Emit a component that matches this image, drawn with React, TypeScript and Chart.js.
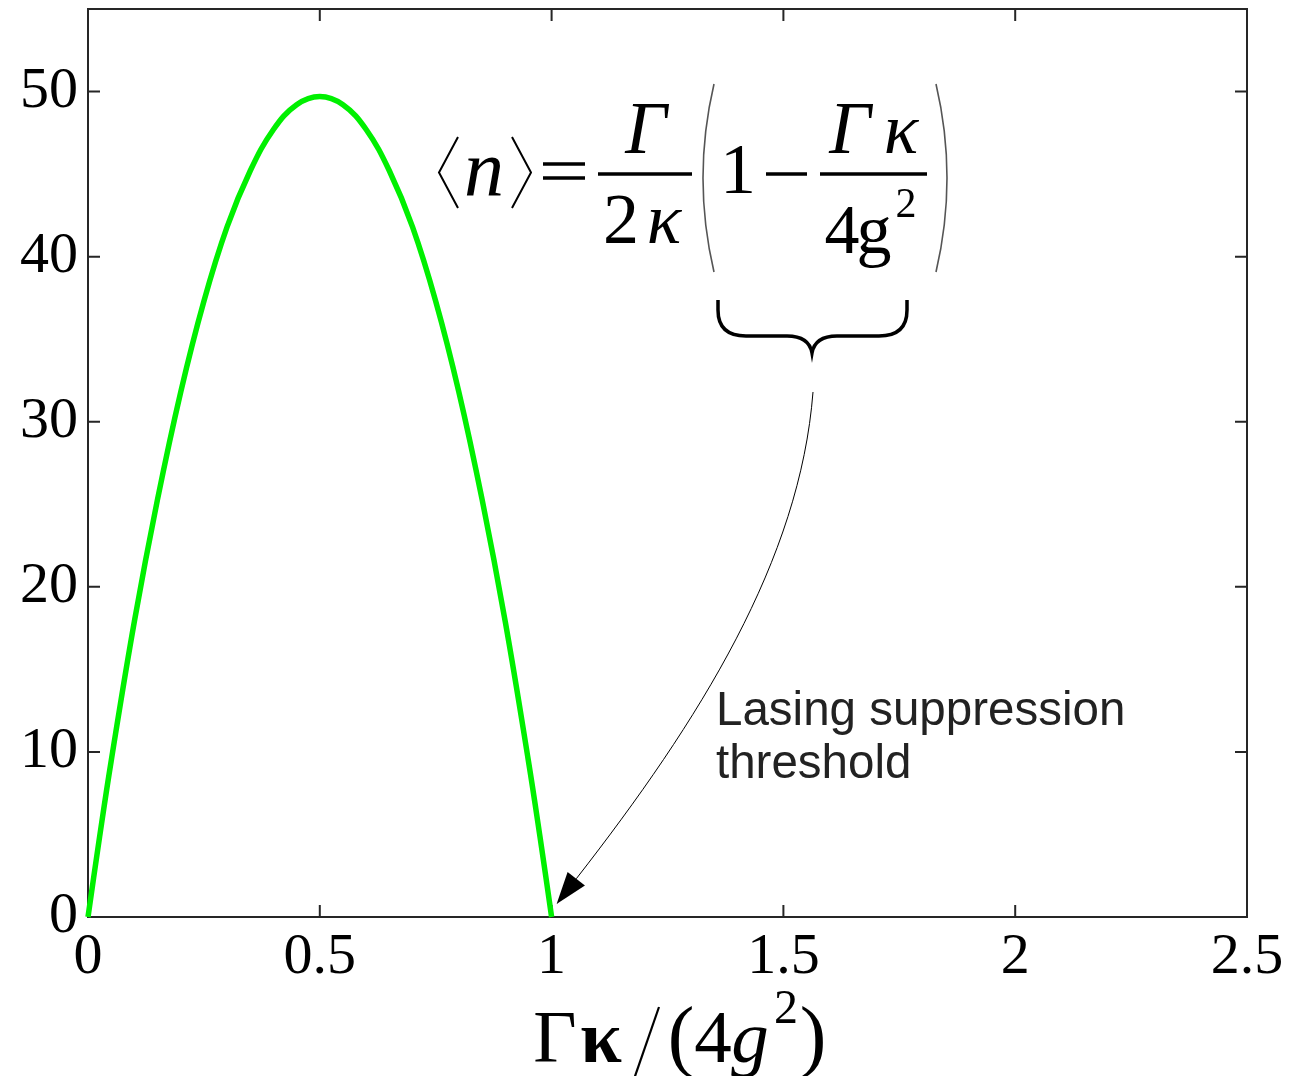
import React, { useEffect, useRef } from "react";
import { Chart, registerables } from "chart.js";

Chart.register(...registerables);

// Normalised pump rate Γκ/(4g²)
const pumpRatio = [
  0, 0.025, 0.05, 0.1, 0.15, 0.2, 0.25, 0.3, 0.35, 0.4, 0.45, 0.5,
  0.55, 0.6, 0.65, 0.7, 0.75, 0.8, 0.85, 0.9, 0.95, 0.975, 1.0,
];
// Mean photon number ⟨n⟩
const meanPhotons = [
  0, 4.85, 9.45, 17.9, 25.3, 31.8, 37.3, 41.8, 45.2, 47.7, 49.2, 49.7,
  49.2, 47.7, 45.2, 41.8, 37.3, 31.8, 25.3, 17.9, 9.45, 4.85, 0,
];

const xTickValues = [0, 0.5, 1, 1.5, 2, 2.5];
const yTickValues = [0, 10, 20, 30, 40, 50];

const SERIF = "'Liberation Serif', 'Times New Roman', serif";
const SANS = "'Liberation Sans', Arial, sans-serif";
const AXIS_COLOR = "#262626";
const TICK_LEN = 12;

// Box around the plot area with inward tick marks on all four sides
const framePlugin = {
  id: "frame",
  beforeDatasetsDraw(chart: any) {
    const { ctx, chartArea: a, scales } = chart;
    ctx.save();
    ctx.strokeStyle = AXIS_COLOR;
    ctx.lineWidth = 2;
    ctx.strokeRect(a.left, a.top, a.right - a.left, a.bottom - a.top);
    ctx.beginPath();
    for (const t of scales.x.ticks) {
      const px = scales.x.getPixelForValue(t.value);
      ctx.moveTo(px, a.bottom);
      ctx.lineTo(px, a.bottom - TICK_LEN);
      ctx.moveTo(px, a.top);
      ctx.lineTo(px, a.top + TICK_LEN);
    }
    for (const t of scales.y.ticks) {
      const py = scales.y.getPixelForValue(t.value);
      ctx.moveTo(a.left, py);
      ctx.lineTo(a.left + TICK_LEN, py);
      ctx.moveTo(a.right, py);
      ctx.lineTo(a.right - TICK_LEN, py);
    }
    ctx.stroke();
    ctx.restore();
  },
};

function glyph(ctx: CanvasRenderingContext2D, text: string, cx: number, base: number, font: string) {
  ctx.font = font;
  ctx.textAlign = "center";
  ctx.textBaseline = "alphabetic";
  ctx.fillText(text, cx, base);
}

function hLine(ctx: CanvasRenderingContext2D, x0: number, x1: number, y: number, w: number) {
  ctx.lineWidth = w;
  ctx.beginPath();
  ctx.moveTo(x0, y);
  ctx.lineTo(x1, y);
  ctx.stroke();
}

// Formula, brace, arrow, threshold note and the x-axis title
const notesPlugin = {
  id: "notes",
  afterDraw(chart: any) {
    const { ctx, scales } = chart;
    ctx.save();
    ctx.fillStyle = "#000";
    ctx.strokeStyle = "#000";
    ctx.lineCap = "butt";

    // ⟨n⟩
    ctx.lineWidth = 2;
    ctx.beginPath();
    ctx.moveTo(458, 137);
    ctx.lineTo(439, 172.5);
    ctx.lineTo(458, 208);
    ctx.moveTo(512, 137);
    ctx.lineTo(531, 172.5);
    ctx.lineTo(512, 208);
    ctx.stroke();
    glyph(ctx, "n", 484, 195, `italic 80px ${SERIF}`);

    // =
    hLine(ctx, 543, 585, 164, 3.5);
    hLine(ctx, 543, 585, 178, 3.5);

    // Γ / 2κ
    hLine(ctx, 598, 692, 174, 3.5);
    glyph(ctx, "Γ", 646, 153, `italic 73px ${SERIF}`);
    glyph(ctx, "2", 621, 243, `72px ${SERIF}`);
    glyph(ctx, "κ", 664, 243, `italic 72px ${SERIF}`);

    // big parentheses
    ctx.strokeStyle = "#555";
    ctx.lineWidth = 1.6;
    ctx.beginPath();
    ctx.moveTo(714, 84);
    ctx.quadraticCurveTo(692, 178, 714, 272);
    ctx.moveTo(936, 84);
    ctx.quadraticCurveTo(958, 178, 936, 272);
    ctx.stroke();
    ctx.strokeStyle = "#000";

    // 1 − Γκ / 4g²
    glyph(ctx, "1", 738, 193, `72px ${SERIF}`);
    hLine(ctx, 766, 807, 174, 3.5);
    hLine(ctx, 820, 927, 174, 3.5);
    glyph(ctx, "Γ", 850, 153, `italic 73px ${SERIF}`);
    glyph(ctx, "κ", 901, 153, `italic 72px ${SERIF}`);
    glyph(ctx, "4", 842, 253, `70px ${SERIF}`);
    glyph(ctx, "g", 874, 253, `70px ${SERIF}`);
    glyph(ctx, "2", 906, 217, `42px ${SERIF}`);

    // under-brace
    ctx.lineWidth = 3.5;
    ctx.beginPath();
    ctx.moveTo(718, 300);
    ctx.lineTo(718, 310);
    ctx.quadraticCurveTo(718, 336, 746, 336);
    ctx.lineTo(787, 336);
    ctx.quadraticCurveTo(809, 336, 812, 353);
    ctx.quadraticCurveTo(815, 336, 837, 336);
    ctx.lineTo(879, 336);
    ctx.quadraticCurveTo(907, 336, 907, 310);
    ctx.lineTo(907, 300);
    ctx.stroke();

    // arrow to the threshold point on the x axis
    const tipX = scales.x.getPixelForValue(1) + 5;
    const tipY = scales.y.getPixelForValue(0) - 13;
    const c2x = 700, c2y = 720;
    let dx = tipX - c2x, dy = tipY - c2y;
    const len = Math.hypot(dx, dy);
    dx /= len; dy /= len;
    const headLen = 32, headHalf = 11;
    const bx = tipX - dx * headLen, by = tipY - dy * headLen;
    ctx.lineWidth = 1;
    ctx.beginPath();
    ctx.moveTo(813, 392);
    ctx.bezierCurveTo(800, 560, c2x, c2y, bx, by);
    ctx.stroke();
    ctx.beginPath();
    ctx.moveTo(tipX, tipY);
    ctx.lineTo(bx - dy * headHalf, by + dx * headHalf);
    ctx.lineTo(bx + dy * headHalf, by - dx * headHalf);
    ctx.closePath();
    ctx.fill();

    // threshold note
    ctx.fillStyle = "#222";
    ctx.font = `47.5px ${SANS}`;
    ctx.textAlign = "left";
    ctx.textBaseline = "alphabetic";
    ctx.fillText("Lasing suppression", 716, 725);
    ctx.fillText("threshold", 716, 778);

    // x-axis title Γκ/(4g²)
    ctx.fillStyle = "#000";
    glyph(ctx, "Γ", 555, 1062, `75px ${SERIF}`);
    glyph(ctx, "κ", 601, 1062, `bold 75px ${SERIF}`);
    ctx.lineWidth = 2.2;
    ctx.beginPath();
    ctx.moveTo(659, 1007);
    ctx.lineTo(633, 1082);
    ctx.stroke();
    glyph(ctx, "(", 681, 1062, `80px ${SERIF}`);
    glyph(ctx, "4", 713, 1062, `75px ${SERIF}`);
    glyph(ctx, "g", 750, 1062, `italic 75px ${SERIF}`);
    glyph(ctx, "2", 786, 1023, `48px ${SERIF}`);
    glyph(ctx, ")", 813, 1062, `80px ${SERIF}`);

    ctx.restore();
  },
};

export default function App() {
  const canvasRef = useRef<HTMLCanvasElement | null>(null);

  useEffect(() => {
    const canvas = canvasRef.current;
    if (!canvas) return;
    const tickFont = { family: SERIF, size: 58 };
    const chart = new Chart(canvas, {
      type: "line",
      data: {
        datasets: [
          {
            data: pumpRatio.map((x, i) => ({ x, y: meanPhotons[i] })),
            borderColor: "rgb(0, 240, 0)",
            borderWidth: 5.5,
            pointRadius: 0,
            tension: 0.4,
            clip: false,
          } as any,
        ],
      },
      options: {
        responsive: false,
        animation: false,
        layout: { padding: { top: 9, right: 42, left: 0, bottom: 0 } },
        plugins: { legend: { display: false }, tooltip: { enabled: false } },
        scales: {
          x: {
            type: "linear",
            min: 0,
            max: 2.5,
            afterBuildTicks: (s: any) => {
              s.ticks = xTickValues.map((v) => ({ value: v }));
            },
            afterFit: (s: any) => {
              s.height = 159;
              s.paddingLeft = 0;
              s.paddingRight = 0;
            },
            grid: { display: false, drawTicks: false },
            border: { display: false },
            ticks: {
              font: tickFont,
              color: "#000",
              padding: 6,
              maxRotation: 0,
              autoSkip: false,
              callback: (v: any) => String(v),
            },
          },
          y: {
            type: "linear",
            min: 0,
            max: 55,
            afterBuildTicks: (s: any) => {
              s.ticks = yTickValues.map((v) => ({ value: v }));
            },
            afterFit: (s: any) => {
              s.width = 88;
              s.paddingTop = 0;
              s.paddingBottom = 0;
            },
            grid: { display: false, drawTicks: false },
            border: { display: false },
            ticks: {
              font: tickFont,
              color: "#000",
              padding: 10,
              autoSkip: false,
              callback: (v: any) => String(v),
            },
          },
        },
      },
      plugins: [framePlugin, notesPlugin],
    });
    return () => chart.destroy();
  }, []);

  return (
    <div style={{ position: "absolute", left: 0, top: 0, width: 1289, height: 1076, background: "#fff" }}>
      <canvas ref={canvasRef} width={1289} height={1076} style={{ display: "block", width: 1289, height: 1076 }} />
    </div>
  );
}
